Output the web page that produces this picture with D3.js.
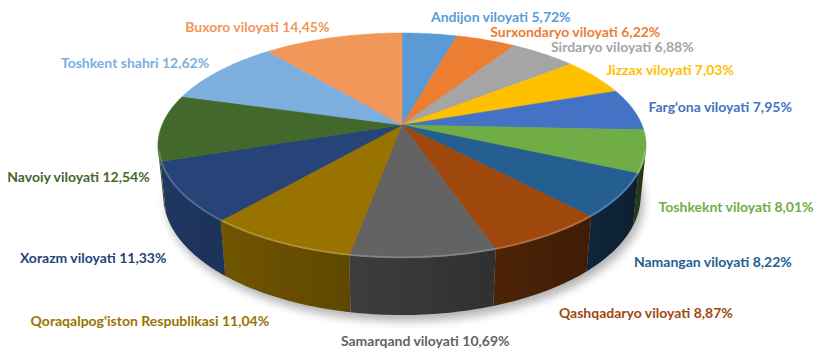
<!DOCTYPE html>
<html>
<head>
<meta charset="utf-8">
<script src="https://cdn.jsdelivr.net/npm/d3@7"></script>
<style>
  body { margin: 0; background: #fff; }
  svg text { font-family: Lato, "Open Sans", sans-serif; font-weight: bold; font-size: 14px; }
</style>
</head>
<body>
<div id="chart-area"></div>
<script>
// slices, clockwise from 12 o'clock
var regions = ["Andijon viloyati", "Surxondaryo viloyati", "Sirdaryo viloyati", "Jizzax viloyati",
    "Farg\u2018ona viloyati", "Toshkeknt viloyati", "Namangan viloyati", "Qashqadaryo viloyati",
    "Samarqand viloyati", "Qoraqalpog\u2018iston Respublikasi", "Xorazm viloyati", "Navoiy viloyati",
    "Toshkent shahri", "Buxoro viloyati"];
var shares = [5.72, 6.22, 6.88, 7.03, 7.95, 8.01, 8.22, 8.87, 10.69, 11.04, 11.33, 12.54, 12.62, 14.45];
var colors = ["#5B9BD5", "#ED7D31", "#A5A5A5", "#FFC000", "#4472C4", "#70AD47", "#255E91",
    "#9E480E", "#636363", "#997300", "#264478", "#43682B", "#7CAFDD", "#F1975A"];

var width = 826;
var height = 353;

// 3d view of the pie (perspective)
var cx = 402, cy = 125, kR = 240;
var sa = 0.4533, ca = Math.sqrt(1 - sa * sa);
var ecc = 0.2044;     // radius / camera distance
var depth = 0.2374;   // thickness / radius

function project(x, y, z) {
    var d = 1 - ecc * (y * sa + z * ca);
    var up = y * ca - z * sa;
    return [cx + kR * x / d, cy - kR * up / d];
}
function rim(a, r, y) {
    return project(r * Math.sin(a), y, -r * Math.cos(a));
}
function arcPoints(a0, a1, r, y) {
    var n = Math.max(2, Math.ceil((a1 - a0) / (Math.PI / 180)));
    return d3.range(n + 1).map(function(i) { return rim(a0 + (a1 - a0) * i / n, r, y); });
}
function shade(col, a) {
    var f = 0.57 - 0.26 * Math.sin(a);
    var c = d3.rgb(col);
    return d3.rgb(c.r * f, c.g * f, c.b * f).toString();
}

var svg = d3.select("#chart-area")
    .append("svg")
        .attr("width", width)
        .attr("height", height);

var defs = svg.append("defs");
defs.append("filter")
    .attr("id", "soft")
    .attr("x", "-20%").attr("y", "-20%").attr("width", "140%").attr("height", "140%")
    .append("feGaussianBlur")
    .attr("stdDeviation", 5);

var pie = d3.pie().sort(null).value(function(d) { return d; });
var arcs = pie(shares);
var line = d3.line();

// shadow under the pie
svg.append("path")
    .attr("d", line(arcPoints(0, 2 * Math.PI, 1, -depth)) + "Z")
    .attr("transform", "translate(3, 6)")
    .attr("fill", "#000")
    .attr("opacity", 0.3)
    .attr("filter", "url(#soft)");

// outer wall: only the part facing the viewer
var vis0 = Math.acos(-ecc / ca);
var vis1 = 2 * Math.PI - vis0;
var walls = svg.append("g");
arcs.forEach(function(d, i) {
    var a0 = Math.max(d.startAngle, vis0);
    var a1 = Math.min(d.endAngle, vis1);
    if (a1 <= a0) return;
    var x0 = rim(a0, 1, 0)[0], x1 = rim(a1, 1, 0)[0];
    var grad = defs.append("linearGradient")
        .attr("id", "wall" + i)
        .attr("gradientUnits", "userSpaceOnUse")
        .attr("x1", x0).attr("x2", x1).attr("y1", 0).attr("y2", 0);
    d3.range(7).forEach(function(k) {
        var a = a0 + (a1 - a0) * k / 6;
        grad.append("stop")
            .attr("offset", (rim(a, 1, 0)[0] - x0) / (x1 - x0))
            .attr("stop-color", shade(colors[i], a));
    });
    var pts = arcPoints(a0, a1, 1, 0).concat(arcPoints(a0, a1, 1, -depth).reverse());
    walls.append("path")
        .attr("d", line(pts) + "Z")
        .attr("fill", "url(#wall" + i + ")");
});

// top faces
svg.append("g")
    .selectAll("path")
    .data(arcs)
    .enter()
    .append("path")
        .attr("d", function(d) {
            return line([project(0, 0, 0)].concat(arcPoints(d.startAngle, d.endAngle, 1, 0))) + "Z";
        })
        .attr("fill", function(d, i) { return colors[i]; })
        .attr("stroke", function(d, i) { return colors[i]; })
        .attr("stroke-width", 0.5);

// light bevel on the front rim
svg.append("path")
    .attr("d", line(arcPoints(vis0, vis1, 0.995, 0)))
    .attr("fill", "none")
    .attr("stroke", "#fff")
    .attr("stroke-opacity", 0.22)
    .attr("stroke-width", 1.5);

// data labels
var labels = svg.append("g")
    .selectAll("text")
    .data(arcs)
    .enter()
    .append("text")
        .each(function(d) {
            var a = (d.startAngle + d.endAngle) / 2;
            var yl = Math.cos(a) > 0 ? 0 : -depth;
            var p = project(1.07 * Math.sin(a), yl, -1.15 * Math.cos(a));
            var sn = Math.sin(a);
            d.lx = p[0];
            d.ly = p[1];
            d3.select(this)
                .attr("x", p[0])
                .attr("y", p[1])
                .attr("dy", "0.35em")
                .attr("text-anchor", Math.abs(sn) < 0.1 ? "middle" : (sn > 0 ? "start" : "end"));
        })
        .attr("fill", function(d, i) { return colors[i]; })
        .text(function(d, i) { return regions[i] + " " + d3.format(".2f")(shares[i]).replace(".", ",") + "%"; });

// push apart labels that collide
var boxes = [];
labels.each(function(d) {
    var b = this.getBBox();
    boxes.push({ d: d, x0: b.x, x1: b.x + b.width });
});
var gap = 15;
for (var it = 0; it < 30; it++) {
    for (var i = 0; i < boxes.length; i++) {
        for (var j = i + 1; j < boxes.length; j++) {
            var A = boxes[i], B = boxes[j];
            if (A.x1 < B.x0 || B.x1 < A.x0) continue;
            var dy = B.d.ly - A.d.ly;
            if (Math.abs(dy) >= gap) continue;
            var push = (gap - Math.abs(dy)) / 2 * (dy >= 0 ? 1 : -1);
            A.d.ly -= push;
            B.d.ly += push;
        }
    }
}
labels.attr("y", function(d) { return d.ly; });
</script>
</body>
</html>
